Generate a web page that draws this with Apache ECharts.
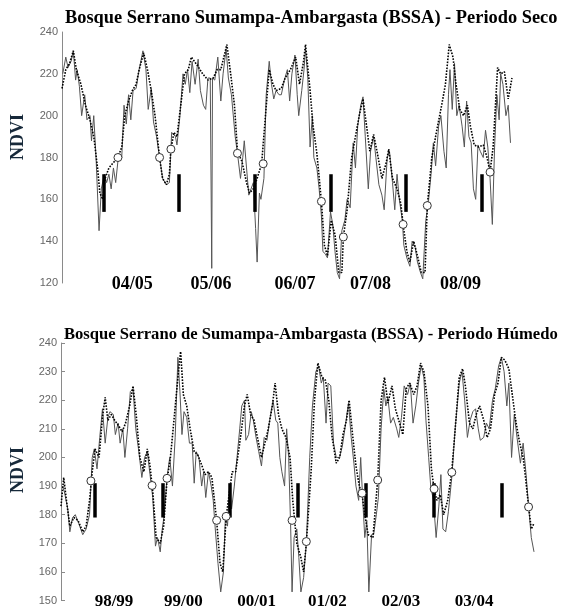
<!DOCTYPE html>
<html><head><meta charset="utf-8">
<script src="https://cdn.jsdelivr.net/npm/echarts@6/dist/echarts.min.js"></script>
<style>html,body{margin:0;padding:0;background:#fff}#c{width:561px;height:610px}</style>
</head><body><div id="c"></div>
<script>
// ---------- Periodo Seco (top) ----------
const dryTitle = 'Bosque Serrano Sumampa-Ambargasta (BSSA) - Periodo Seco';
const dryYTicks = [120, 140, 160, 180, 200, 220, 240];
const dryLabels = ['04/05', '05/06', '06/07', '07/08', '08/09'];
const dryLabelPos = [0.93, 1.97, 3.08, 4.08, 5.27];
const dryGray = [[0.01,220],[0.05,228],[0.08,223],[0.12,226],[0.15,231],[0.18,217],[0.20,222],[0.23,214],[0.26,200],[0.30,210],[0.33,198],[0.37,200],[0.39,188],[0.42,200],[0.45,180],[0.49,145],[0.52,165],[0.56,172],[0.59,168],[0.62,172],[0.65,165],[0.68,175],[0.71,168],[0.75,182],[0.79,180],[0.82,205],[0.85,196],[0.88,210],[0.91,198],[0.94,212],[0.98,213],[1.02,222],[1.07,231],[1.11,222],[1.14,203],[1.18,213],[1.21,197],[1.25,190],[1.29,180],[1.33,170],[1.38,167],[1.42,168],[1.45,192],[1.50,190],[1.52,186],[1.56,200],[1.60,220],[1.63,215],[1.66,222],[1.69,211],[1.72,226],[1.76,215],[1.80,227],[1.83,212],[1.87,205],[1.90,203],[1.93,218],[1.96,218],[1.98,127],[1.99,218],[2.02,217],[2.06,228],[2.10,207],[2.13,220],[2.17,232],[2.20,218],[2.24,210],[2.29,190],[2.32,182],[2.36,170],[2.39,180],[2.41,188],[2.44,175],[2.47,162],[2.50,165],[2.53,168],[2.56,146],[2.58,130],[2.61,163],[2.63,160],[2.67,170],[2.70,210],[2.74,226],[2.77,215],[2.80,208],[2.83,212],[2.87,210],[2.90,210],[2.94,217],[2.98,222],[3.01,207],[3.04,220],[3.08,229],[3.11,210],[3.13,200],[3.17,212],[3.20,222],[3.22,232],[3.25,218],[3.28,185],[3.31,200],[3.33,180],[3.37,175],[3.40,165],[3.43,152],[3.45,135],[3.48,134],[3.51,132],[3.55,154],[3.58,148],[3.61,135],[3.64,125],[3.67,122],[3.70,145],[3.74,150],[3.77,160],[3.81,156],[3.85,187],[3.88,175],[3.91,195],[3.95,205],[3.98,209],[4.01,190],[4.05,165],[4.08,183],[4.12,190],[4.15,180],[4.19,167],[4.23,162],[4.26,155],[4.30,180],[4.33,183],[4.37,168],[4.40,155],[4.43,172],[4.46,160],[4.50,150],[4.52,138],[4.56,132],[4.60,128],[4.63,140],[4.67,137],[4.70,130],[4.74,125],[4.77,122],[4.81,150],[4.84,157],[4.88,172],[4.91,187],[4.94,176],[4.98,195],[5.01,200],[5.05,183],[5.08,175],[5.11,210],[5.13,222],[5.16,203],[5.19,225],[5.22,200],[5.25,205],[5.29,195],[5.32,185],[5.35,207],[5.38,190],[5.41,187],[5.44,165],[5.47,160],[5.50,186],[5.53,183],[5.57,180],[5.60,193],[5.63,185],[5.66,170],[5.69,148],[5.72,185],[5.75,210],[5.78,198],[5.80,220],[5.83,215],[5.87,200],[5.90,205],[5.93,187]];
const dryDot = [[0.00,213],[0.05,222],[0.10,225],[0.15,231],[0.19,222],[0.25,215],[0.31,205],[0.37,198],[0.42,190],[0.47,175],[0.50,163],[0.54,160],[0.57,170],[0.62,175],[0.69,178],[0.74,180],[0.79,185],[0.83,200],[0.88,207],[0.93,212],[0.98,215],[1.02,222],[1.08,230],[1.13,222],[1.18,212],[1.23,200],[1.29,180],[1.33,170],[1.38,167],[1.42,172],[1.44,184],[1.48,192],[1.52,190],[1.57,205],[1.62,220],[1.67,222],[1.71,228],[1.79,224],[1.86,220],[1.93,217],[2.00,218],[2.05,222],[2.10,222],[2.14,228],[2.18,234],[2.23,220],[2.28,205],[2.32,183],[2.38,178],[2.44,168],[2.48,163],[2.53,165],[2.58,170],[2.64,177],[2.69,200],[2.74,222],[2.79,215],[2.83,212],[2.90,213],[2.95,218],[3.02,222],[3.09,228],[3.14,215],[3.19,225],[3.22,234],[3.28,212],[3.32,195],[3.37,182],[3.43,159],[3.47,138],[3.51,133],[3.56,150],[3.61,143],[3.66,125],[3.70,125],[3.72,142],[3.77,155],[3.83,180],[3.88,190],[3.93,200],[3.98,208],[4.02,197],[4.07,183],[4.12,191],[4.17,182],[4.23,170],[4.29,178],[4.32,184],[4.37,170],[4.43,165],[4.48,158],[4.51,148],[4.56,135],[4.60,130],[4.65,140],[4.70,133],[4.75,125],[4.80,125],[4.83,157],[4.89,180],[4.95,192],[5.02,205],[5.07,215],[5.12,234],[5.17,228],[5.21,215],[5.26,203],[5.31,200],[5.36,205],[5.40,195],[5.45,186],[5.51,185],[5.57,186],[5.62,180],[5.66,173],[5.70,185],[5.76,223],[5.80,220],[5.85,221],[5.90,208],[5.95,218]];
const dryCircles = [[0.74,180],[1.29,180],[1.44,184],[2.32,182],[2.66,177],[3.43,159],[3.72,142],[4.51,148],[4.83,157],[5.66,173]];
const dryBarPos = [0.55, 1.55, 2.55, 3.55, 4.55, 5.55];
const dryBarRange = [154, 172];

// ---------- Periodo Húmedo (bottom) ----------
const wetTitle = 'Bosque Serrano de Sumampa-Ambargasta (BSSA) - Periodo Húmedo';
const wetLabels = ['98/99', '99/00', '00/01', '01/02', '02/03', '03/04'];
const wetLabelPos = [0.78, 1.80, 2.88, 3.92, 5.00, 6.08];
const wetGray = [[0.02,190],[0.05,188],[0.10,182],[0.13,174],[0.17,179],[0.21,180],[0.26,177],[0.32,173],[0.37,175],[0.42,180],[0.46,200],[0.49,203],[0.53,196],[0.57,207],[0.61,217],[0.65,205],[0.69,214],[0.72,216],[0.77,215],[0.80,208],[0.84,212],[0.87,205],[0.91,210],[0.94,200],[0.98,210],[1.02,223],[1.06,224],[1.10,210],[1.14,203],[1.19,193],[1.23,200],[1.27,202],[1.31,194],[1.35,186],[1.39,169],[1.42,172],[1.46,167],[1.49,175],[1.52,180],[1.56,193],[1.60,200],[1.64,190],[1.68,207],[1.72,235],[1.75,223],[1.78,208],[1.81,216],[1.85,214],[1.89,205],[1.93,205],[1.96,191],[1.99,202],[2.03,200],[2.07,190],[2.10,195],[2.13,186],[2.17,195],[2.21,190],[2.24,185],[2.27,175],[2.31,163],[2.35,153],[2.39,160],[2.42,180],[2.45,176],[2.48,190],[2.51,182],[2.55,190],[2.59,200],[2.63,210],[2.66,218],[2.70,220],[2.72,206],[2.76,208],[2.80,216],[2.83,213],[2.87,207],[2.91,202],[2.95,197],[2.99,207],[3.03,206],[3.07,213],[3.12,220],[3.16,213],[3.19,212],[3.22,200],[3.25,195],[3.29,190],[3.32,210],[3.35,200],[3.38,175],[3.40,153],[3.43,172],[3.47,175],[3.50,165],[3.53,153],[3.57,158],[3.61,170],[3.66,200],[3.70,218],[3.75,230],[3.79,232],[3.83,226],[3.86,228],[3.90,212],[3.93,226],[3.97,225],[4.01,205],[4.05,200],[4.10,200],[4.14,204],[4.19,212],[4.23,219],[4.27,207],[4.31,198],[4.34,190],[4.38,185],[4.41,200],[4.44,185],[4.47,172],[4.50,178],[4.53,153],[4.57,173],[4.60,173],[4.64,180],[4.67,186],[4.71,210],[4.75,224],[4.78,218],[4.81,221],[4.85,212],[4.89,214],[4.94,210],[4.97,207],[5.01,214],[5.05,225],[5.10,222],[5.14,226],[5.18,212],[5.22,218],[5.26,226],[5.30,232],[5.34,228],[5.37,213],[5.41,200],[5.44,190],[5.48,185],[5.52,172],[5.56,183],[5.59,194],[5.62,175],[5.66,174],[5.70,181],[5.75,193],[5.80,210],[5.86,226],[5.90,230],[5.94,220],[5.98,207],[6.02,213],[6.06,216],[6.10,217],[6.14,210],[6.17,206],[6.22,207],[6.26,212],[6.30,210],[6.35,220],[6.39,224],[6.44,232],[6.48,235],[6.52,230],[6.56,218],[6.59,226],[6.63,200],[6.67,215],[6.71,207],[6.76,198],[6.80,205],[6.84,195],[6.88,183],[6.92,172],[6.96,167]];
const wetDot = [[0.00,183],[0.04,193],[0.08,185],[0.13,176],[0.19,179],[0.25,178],[0.32,174],[0.37,176],[0.42,185],[0.46,195],[0.50,203],[0.56,200],[0.61,214],[0.65,221],[0.69,213],[0.74,215],[0.79,213],[0.85,211],[0.90,209],[0.95,212],[1.01,218],[1.06,225],[1.11,214],[1.16,200],[1.22,195],[1.27,203],[1.31,197],[1.35,188],[1.40,172],[1.46,170],[1.51,176],[1.56,192],[1.61,200],[1.67,215],[1.72,228],[1.76,237],[1.80,222],[1.85,218],[1.90,210],[1.96,202],[2.01,201],[2.06,198],[2.12,194],[2.17,195],[2.22,193],[2.29,178],[2.34,163],[2.38,160],[2.43,179],[2.49,190],[2.52,195],[2.57,195],[2.63,205],[2.70,218],[2.74,222],[2.79,215],[2.84,213],[2.89,207],[2.95,200],[3.00,205],[3.05,210],[3.11,218],[3.15,226],[3.20,215],[3.25,210],[3.31,207],[3.37,200],[3.41,185],[3.47,170],[3.53,165],[3.57,160],[3.61,170],[3.68,195],[3.73,220],[3.78,233],[3.84,228],[3.89,227],[3.94,220],[3.99,207],[4.05,198],[4.10,200],[4.15,208],[4.20,213],[4.24,220],[4.29,208],[4.34,197],[4.39,190],[4.43,187],[4.47,180],[4.52,173],[4.59,172],[4.66,192],[4.71,220],[4.76,228],[4.81,219],[4.87,225],[4.92,217],[4.97,213],[5.03,208],[5.08,224],[5.13,226],[5.19,222],[5.24,225],[5.29,233],[5.34,230],[5.40,218],[5.45,196],[5.49,189],[5.53,185],[5.58,187],[5.63,180],[5.69,185],[5.75,195],[5.80,210],[5.86,228],[5.91,231],[5.95,225],[6.01,212],[6.06,210],[6.11,215],[6.16,218],[6.22,213],[6.27,207],[6.32,210],[6.38,222],[6.43,226],[6.48,235],[6.53,234],[6.59,231],[6.64,222],[6.69,213],[6.75,205],[6.80,200],[6.84,192],[6.88,183],[6.92,175],[6.96,177]];
const wetCircles = [[0.44,191.8],[1.34,190.2],[1.56,192.7],[2.29,178],[2.43,179.4],[3.40,178],[3.61,170.6],[4.43,187.5],[4.66,192.1],[5.49,189],[5.75,194.8],[6.88,182.7]];
const wetBarPos = [0.49, 1.49, 2.49, 3.49, 4.48, 5.49, 6.48];
const wetBarRange = [179, 191];

const serif = '"Liberation Serif", "Times New Roman", serif';
const sans = '"Liberation Sans", Arial, sans-serif';

function labelFmt(labels, pos) {
  return function (v) {
    for (let i = 0; i < pos.length; i++) if (Math.abs(pos[i] - v) < 1e-6) return labels[i];
    return '';
  };
}
function xAxisFor(idx, max, labels, pos, fs) {
  return {
    gridIndex: idx, type: 'value', min: 0, max: max,
    axisLine: { show: false }, axisTick: { show: false }, splitLine: { show: false },
    axisLabel: {
      customValues: pos, formatter: labelFmt(labels, pos), margin: 1,
      verticalAlign: 'middle', fontFamily: serif, fontWeight: 'bold', fontSize: fs, color: '#000'
    }
  };
}
function yAxisFor(idx, min, max, interval, ticks) {
  return {
    gridIndex: idx, type: 'value', min: min, max: max, interval: interval,
    axisLine: { show: true, lineStyle: { color: '#8a8a8a', width: 1 } },
    axisTick: { show: ticks, inside: true, length: 4, lineStyle: { color: '#8a8a8a' } },
    splitLine: { show: false },
    axisLabel: { fontFamily: sans, fontSize: 11, color: '#666', margin: 4 }
  };
}
function barMarks(pos, range) {
  return pos.map(t => [{ coord: [t, range[1]] }, { coord: [t, range[0]] }]);
}
function seriesFor(idx, gray, dot, circles, barPos, barRange) {
  return [
    { type: 'line', xAxisIndex: idx, yAxisIndex: idx, data: gray, symbol: 'none', smooth: false,
      lineStyle: { color: '#555', width: 1 }, z: 2 },
    { type: 'line', xAxisIndex: idx, yAxisIndex: idx, data: dot, symbol: 'none', smooth: false,
      lineStyle: { color: '#000', width: 1.6, type: [1.6, 1.4] }, z: 3,
      markLine: { silent: true, symbol: ['none', 'none'], label: { show: false },
        lineStyle: { color: '#000', width: 3.5, type: 'solid' }, data: barMarks(barPos, barRange) } },
    { type: 'scatter', xAxisIndex: idx, yAxisIndex: idx, data: circles, symbol: 'circle', symbolSize: 8,
      itemStyle: { color: '#fff', borderColor: '#333', borderWidth: 1, opacity: 1 }, z: 5 }
  ];
}

const chart = echarts.init(document.getElementById('c'), null, { renderer: 'canvas' });
chart.setOption({
  animation: false,
  backgroundColor: '#fff',
  title: [
    { text: dryTitle, left: 65, top: 9, padding: 0,
      textStyle: { fontFamily: serif, fontWeight: 'bold', fontSize: 18.4, color: '#000' } },
    { text: wetTitle, left: 64, top: 326, padding: 0,
      textStyle: { fontFamily: serif, fontWeight: 'bold', fontSize: 16.6, color: '#000' } }
  ],
  graphic: [
    { type: 'text', x: 18, y: 137, rotation: Math.PI / 2,
      style: { text: 'NDVI', font: 'bold 18px ' + serif, fill: '#17293a', align: 'center', verticalAlign: 'middle' } },
    { type: 'text', x: 18, y: 470, rotation: Math.PI / 2,
      style: { text: 'NDVI', font: 'bold 18px ' + serif, fill: '#17293a', align: 'center', verticalAlign: 'middle' } }
  ],
  grid: [
    { left: 62, top: 32, width: 450, height: 251 },
    { left: 61, top: 343, width: 473, height: 260 }
  ],
  xAxis: [
    xAxisFor(0, 5.95, dryLabels, dryLabelPos, 18),
    xAxisFor(1, 6.96, wetLabels, wetLabelPos, 17)
  ],
  yAxis: [
    yAxisFor(0, dryYTicks[0], dryYTicks[dryYTicks.length - 1], 20, false),
    yAxisFor(1, 150, 240, 10, true)
  ],
  series: [].concat(
    seriesFor(0, dryGray, dryDot, dryCircles, dryBarPos, dryBarRange),
    seriesFor(1, wetGray, wetDot, wetCircles, wetBarPos, wetBarRange)
  )
});
</script></body></html>
